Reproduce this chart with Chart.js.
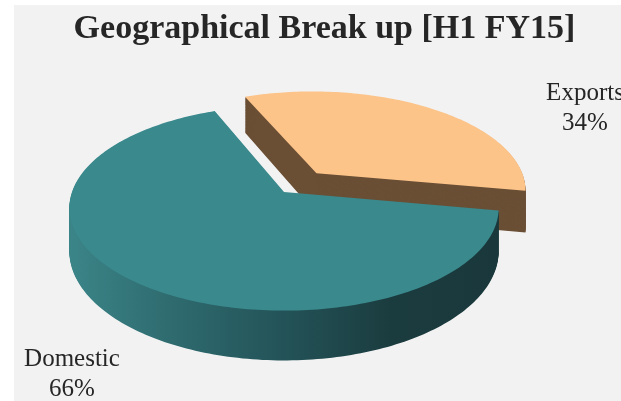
<!DOCTYPE html>
<html>
<head>
<meta charset="utf-8">
<script src="https://cdn.jsdelivr.net/npm/chart.js@4/dist/chart.umd.min.js"></script>
<style>
    html, body { margin: 0; padding: 0; background: #fff; }
    canvas { display: block; }
</style>
</head>
<body>
<canvas id="geoChart" width="621" height="401"></canvas>
<script>
const regions = ['Exports', 'Domestic'];
const shares = [34, 66];
const chartTitle = 'Geographical Break up [H1 FY15]';

// styling
const topColors = ['#fdc48a', '#3a898d'];
const exportsSide = '#6a4f35';
const explodeBy = [0.25, 0];
const labelAnchors = [[585, 100], [72, 366]];

// tilted disc view (screen px), with a bit of perspective
const view = { cx: 284, cy: 192, rx: 212, ry: 100, persp: 0.157, depth: 42 };

function project(X, Z, h) {
    const w = 1 / (1 + Z * view.persp);
    return {
        x: view.cx + X * view.rx * w,
        y: view.cy - Z * view.ry * w + h * view.depth * w
    };
}

function slicePath(ctx, arc, h, off) {
    const mid = (arc.startAngle + arc.endAngle) / 2;
    const ox = Math.cos(mid) * off, oz = -Math.sin(mid) * off;
    const span = arc.endAngle - arc.startAngle;
    const steps = Math.max(8, Math.ceil(span / 0.02));
    ctx.beginPath();
    let p = project(ox, oz, h);
    ctx.moveTo(p.x, p.y);
    for (let s = 0; s <= steps; s++) {
        const a = arc.startAngle + span * s / steps;
        p = project(ox + Math.cos(a), oz - Math.sin(a), h);
        ctx.lineTo(p.x, p.y);
    }
    ctx.closePath();
}

function sideFill(ctx, index) {
    if (index === 0) return exportsSide;
    const g = ctx.createLinearGradient(68, 0, 498, 0);
    g.addColorStop(0, '#3b8588');
    g.addColorStop(0.25, '#2e6a6e');
    g.addColorStop(0.5, '#235358');
    g.addColorStop(0.75, '#1b3c3f');
    g.addColorStop(1, '#1a383b');
    return g;
}

const backdrop = {
    id: 'backdrop',
    beforeDraw(chart) {
        const ctx = chart.ctx;
        ctx.save();
        ctx.fillStyle = '#fff';
        ctx.fillRect(0, 0, chart.width, chart.height);
        ctx.fillStyle = '#f2f2f2';
        ctx.fillRect(14, 5, chart.width - 14, chart.height - 5);
        ctx.restore();
    }
};

const pie3d = {
    id: 'pie3d',
    beforeDatasetsDraw(chart) {
        const ctx = chart.ctx;
        const arcs = chart.getDatasetMeta(0).data;
        const layers = 48;
        ctx.save();
        arcs.forEach((arc, i) => {
            ctx.fillStyle = sideFill(ctx, i);
            for (let k = layers; k >= 1; k--) {
                slicePath(ctx, arc, k / layers, explodeBy[i]);
                ctx.fill();
            }
            ctx.fillStyle = arc.options.backgroundColor;
            slicePath(ctx, arc, 0, explodeBy[i]);
            ctx.fill();
        });
        ctx.restore();
        return false;
    },
    afterDraw(chart) {
        const ctx = chart.ctx;
        ctx.save();
        ctx.font = '25px "Liberation Serif"';
        ctx.fillStyle = '#262626';
        ctx.textAlign = 'center';
        ctx.textBaseline = 'alphabetic';
        regions.forEach((name, i) => {
            const [x, y] = labelAnchors[i];
            ctx.fillText(name, x, y);
            ctx.fillText(shares[i] + '%', x, y + 30);
        });
        ctx.restore();
    }
};

new Chart(document.getElementById('geoChart'), {
    type: 'pie',
    data: {
        labels: regions,
        datasets: [{
            data: shares,
            backgroundColor: topColors,
            borderWidth: 0
        }]
    },
    options: {
        responsive: false,
        animation: false,
        rotation: -22,
        layout: { padding: { left: 28 } },
        plugins: {
            legend: { display: false },
            tooltip: { enabled: false },
            title: {
                display: true,
                text: chartTitle,
                color: '#262626',
                font: { family: 'Liberation Serif', size: 34, weight: 'bold' },
                padding: { top: 9, bottom: 10 }
            }
        }
    },
    plugins: [backdrop, pie3d]
});
</script>
</body>
</html>
